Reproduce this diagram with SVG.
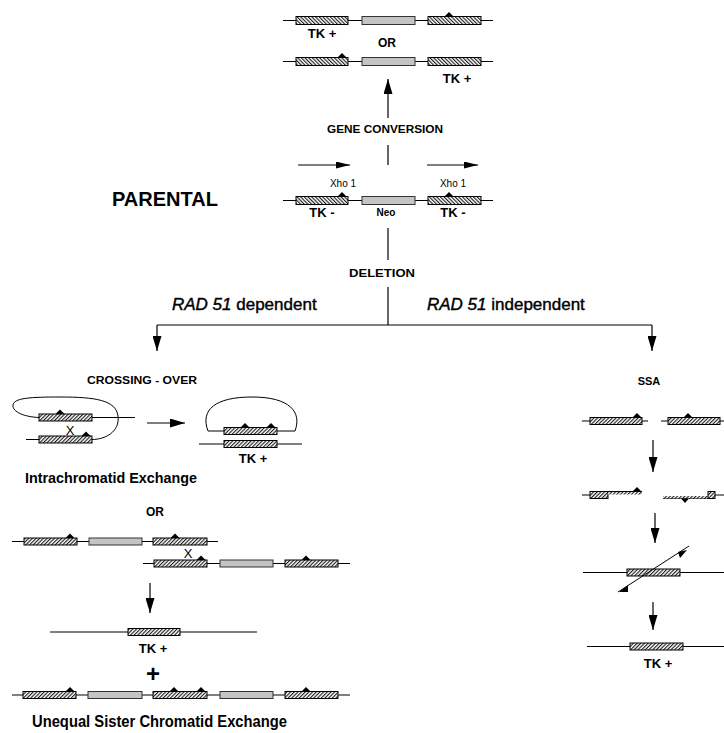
<svg xmlns="http://www.w3.org/2000/svg" width="724" height="733" viewBox="0 0 724 733">
<defs>
<pattern id="hb" width="2.6" height="2.6" patternUnits="userSpaceOnUse" patternTransform="rotate(-45)"><rect width="2.6" height="2.6" fill="#fff"/><line x1="0.6" y1="0" x2="0.6" y2="2.6" stroke="#000" stroke-width="1"/></pattern>
<pattern id="hf" width="2.6" height="2.6" patternUnits="userSpaceOnUse" patternTransform="rotate(45)"><rect width="2.6" height="2.6" fill="#fff"/><line x1="0.6" y1="0" x2="0.6" y2="2.6" stroke="#000" stroke-width="1"/></pattern>
<marker id="ah" viewBox="0 0 15 9" refX="15" refY="4.5" markerWidth="15" markerHeight="9" markerUnits="userSpaceOnUse" orient="auto"><path d="M0,0 L15,4.5 L0,9 z" fill="#000"/></marker>
<marker id="ahs" viewBox="0 0 14 7" refX="14" refY="3.5" markerWidth="14" markerHeight="7" markerUnits="userSpaceOnUse" orient="auto"><path d="M0,0 L14,3.5 L0,7 z" fill="#000"/></marker>
<path id="tri" d="M-4.5,0 L0,-4.5 L4.5,0 z" fill="#000"/>
</defs>
<style>
.chr{stroke:#000;stroke-width:1;fill:none}
.tkb{fill:url(#hb);stroke:#000;stroke-width:1}
.tkf{fill:url(#hf);stroke:#000;stroke-width:1}
.neo{fill:#c4c4c4;stroke:#333;stroke-width:1}
.lbl{font-family:"Liberation Sans",Arial,sans-serif;font-weight:bold;fill:#000}
.reg{font-family:"Liberation Sans",Arial,sans-serif;fill:#000}
.med{font-family:"Liberation Sans",Arial,sans-serif;fill:#000;stroke:#000;stroke-width:0.4}
.cn{stroke:#000;stroke-width:1.2;fill:none}
</style>
<rect width="724" height="733" fill="#fff"/>

<g id="gc-product-1">
<line class="chr" x1="283" y1="20.5" x2="493" y2="20.5"/>
<rect class="tkb" x="296" y="16.5" width="52" height="8"/>
<rect class="neo" x="362" y="16.5" width="53" height="8"/>
<rect class="tkb" x="428" y="16.5" width="53" height="8"/>
<use href="#tri" x="449" y="16.5"/>
<text class="lbl" x="322" y="38" font-size="13" text-anchor="middle">TK +</text>
</g>
<text class="lbl" x="387" y="47" font-size="12" text-anchor="middle">OR</text>
<g id="gc-product-2">
<line class="chr" x1="283" y1="61.5" x2="493" y2="61.5"/>
<rect class="tkb" x="296" y="57.5" width="52" height="8"/>
<rect class="neo" x="362" y="57.5" width="53" height="8"/>
<rect class="tkb" x="428" y="57.5" width="53" height="8"/>
<use href="#tri" x="342" y="57.5"/>
<text class="lbl" x="457" y="83" font-size="13" text-anchor="middle">TK +</text>
</g>

<g id="parental">
<text class="lbl" x="112" y="206" font-size="20">PARENTAL</text>
<line class="chr" x1="298" y1="165" x2="350" y2="165" marker-end="url(#ahs)"/>
<line class="chr" x1="427" y1="165" x2="478" y2="165" marker-end="url(#ahs)"/>
<text class="reg" x="343" y="187" font-size="10" text-anchor="middle">Xho 1</text>
<text class="reg" x="453" y="187" font-size="10" text-anchor="middle">Xho 1</text>
<line class="chr" x1="283" y1="200.5" x2="493" y2="200.5"/>
<rect class="tkb" x="296" y="196.5" width="52" height="8"/>
<rect class="neo" x="362" y="196.5" width="53" height="8"/>
<rect class="tkb" x="428" y="196.5" width="53" height="8"/>
<use href="#tri" x="342" y="196.5"/>
<use href="#tri" x="449" y="196.5"/>
<text class="lbl" x="322" y="217" font-size="13" text-anchor="middle">TK -</text>
<text class="lbl" x="386" y="216" font-size="10" text-anchor="middle">Neo</text>
<text class="lbl" x="453" y="217" font-size="13" text-anchor="middle">TK -</text>
</g>

<g id="connectors">
<line class="cn" x1="388" y1="118" x2="388" y2="79" marker-end="url(#ah)"/>
<line class="cn" x1="388" y1="145" x2="388" y2="165"/>
<line class="cn" x1="388" y1="228" x2="388" y2="260"/>
<line class="cn" x1="388" y1="287" x2="388" y2="325"/>
<line class="cn" x1="157" y1="325" x2="652" y2="325"/>
<line class="cn" x1="157" y1="325" x2="157" y2="351" marker-end="url(#ah)"/>
<line class="cn" x1="652" y1="325" x2="652" y2="351" marker-end="url(#ah)"/>
<text class="lbl" x="385" y="133" font-size="11" text-anchor="middle" textLength="116" lengthAdjust="spacingAndGlyphs">GENE CONVERSION</text>
<text class="lbl" x="382" y="277" font-size="11" text-anchor="middle" textLength="66" lengthAdjust="spacingAndGlyphs">DELETION</text>
<text class="med" x="172" y="310" font-size="17"><tspan font-style="italic">RAD 51</tspan> dependent</text>
<text class="med" x="427" y="310" font-size="17"><tspan font-style="italic">RAD 51</tspan> independent</text>
</g>

<g id="crossing-over">
<text class="lbl" x="142" y="384" font-size="11" text-anchor="middle" textLength="110" lengthAdjust="spacingAndGlyphs">CROSSING - OVER</text>
<path class="chr" d="M39,417.5 C25,417 12,412 13,405 C14,398 30,397 60,397 C95,397 116,400 118,416 C120,432 105,439.5 92,439.5"/>
<line class="chr" x1="92" y1="417.5" x2="135" y2="417.5"/>
<line class="chr" x1="26" y1="439.5" x2="39" y2="439.5"/>
<rect class="tkf" x="39" y="414" width="53" height="7"/>
<rect class="tkf" x="39" y="436" width="53" height="7"/>
<use href="#tri" x="60" y="414"/>
<use href="#tri" x="86" y="436"/>
<text class="reg" x="70" y="435" font-size="13" text-anchor="middle">X</text>
<line class="cn" x1="147" y1="423" x2="185" y2="423" marker-end="url(#ah)"/>
<path class="chr" d="M208,431 C200,410 215,397 252,397 C290,397 302,412 295,431"/>
<line class="chr" x1="208" y1="431" x2="295" y2="431"/>
<line class="chr" x1="199" y1="444" x2="302" y2="444"/>
<rect class="tkf" x="224" y="427.5" width="53" height="7"/>
<rect class="tkf" x="224" y="440.5" width="53" height="7"/>
<use href="#tri" x="245" y="427.5"/>
<use href="#tri" x="271" y="427.5"/>
<text class="lbl" x="253" y="463" font-size="13" text-anchor="middle">TK +</text>
<text class="lbl" x="25" y="483" font-size="15" textLength="172" lengthAdjust="spacingAndGlyphs">Intrachromatid Exchange</text>
</g>

<text class="lbl" x="155" y="516" font-size="12" text-anchor="middle">OR</text>

<g id="unequal-sce">
<line class="chr" x1="12" y1="541.5" x2="218" y2="541.5"/>
<rect class="tkf" x="24" y="538" width="53" height="7"/>
<rect class="neo" x="89" y="538" width="53" height="7"/>
<rect class="tkf" x="153" y="538" width="54" height="7"/>
<use href="#tri" x="70" y="538"/>
<use href="#tri" x="175" y="538"/>
<line class="chr" x1="143" y1="563.5" x2="350" y2="563.5"/>
<rect class="tkf" x="154" y="560" width="53" height="7"/>
<rect class="neo" x="220" y="560" width="53" height="7"/>
<rect class="tkf" x="285" y="560" width="53" height="7"/>
<use href="#tri" x="201" y="560"/>
<use href="#tri" x="306" y="560"/>
<text class="reg" x="188" y="558" font-size="13" text-anchor="middle">X</text>
<line class="cn" x1="150" y1="583" x2="150" y2="613" marker-end="url(#ah)"/>
<line class="chr" x1="50" y1="632" x2="257" y2="632"/>
<rect class="tkf" x="128" y="628.5" width="52" height="7"/>
<text class="lbl" x="153" y="653" font-size="13" text-anchor="middle">TK +</text>
<text class="lbl" x="153" y="682" font-size="24" text-anchor="middle">+</text>
<line class="chr" x1="12" y1="695" x2="350" y2="695"/>
<rect class="tkf" x="23" y="691.5" width="53" height="7"/>
<rect class="neo" x="88" y="691.5" width="54" height="7"/>
<rect class="tkf" x="153" y="691.5" width="54" height="7"/>
<rect class="neo" x="220" y="691.5" width="53" height="7"/>
<rect class="tkf" x="285" y="691.5" width="53" height="7"/>
<use href="#tri" x="70" y="691.5"/>
<use href="#tri" x="174" y="691.5"/>
<use href="#tri" x="201" y="691.5"/>
<use href="#tri" x="306" y="691.5"/>
<text class="lbl" x="32" y="727" font-size="16" textLength="255" lengthAdjust="spacingAndGlyphs">Unequal Sister Chromatid Exchange</text>
</g>

<g id="ssa">
<text class="lbl" x="649" y="385" font-size="11" text-anchor="middle">SSA</text>
<line class="chr" x1="582" y1="421" x2="648" y2="421"/>
<rect class="tkf" x="590" y="417.5" width="52" height="7"/>
<use href="#tri" x="637" y="417.5"/>
<line class="chr" x1="661" y1="421" x2="724" y2="421"/>
<rect class="tkf" x="668" y="417.5" width="52" height="7"/>
<use href="#tri" x="688" y="417.5"/>
<line class="cn" x1="653" y1="440" x2="653" y2="472" marker-end="url(#ah)"/>
<line class="chr" x1="582" y1="495" x2="590" y2="495"/>
<rect class="tkf" x="590" y="491.5" width="18" height="7"/>
<line class="chr" x1="608" y1="491.5" x2="642" y2="491.5"/>
<rect x="608" y="492" width="34" height="2.5" fill="url(#hf)"/>
<use href="#tri" x="637" y="491.5"/>
<line class="chr" x1="663" y1="498.5" x2="708" y2="498.5"/>
<rect x="663" y="496" width="45" height="2.5" fill="url(#hf)"/>
<rect class="tkf" x="708" y="491.5" width="7" height="7"/>
<line class="chr" x1="715" y1="495" x2="724" y2="495"/>
<path d="M681,498.5 L689,498.5 L685,503 z" fill="#000"/>
<line class="cn" x1="655" y1="513" x2="655" y2="543" marker-end="url(#ah)"/>
<line class="chr" x1="583" y1="572.5" x2="724" y2="572.5"/>
<rect class="tkf" x="627" y="569" width="53" height="7"/>
<line class="chr" x1="618" y1="592" x2="689" y2="546"/>
<path d="M678,552 L687,550 L680,558 z" fill="#000"/>
<path d="M619,592 L628,585 L628,592 z" fill="#000"/>
<line class="cn" x1="653" y1="602" x2="653" y2="630" marker-end="url(#ah)"/>
<line class="chr" x1="587" y1="646.5" x2="724" y2="646.5"/>
<rect class="tkf" x="630" y="643" width="53" height="7"/>
<text class="lbl" x="658" y="668" font-size="13" text-anchor="middle">TK +</text>
</g>
</svg>
